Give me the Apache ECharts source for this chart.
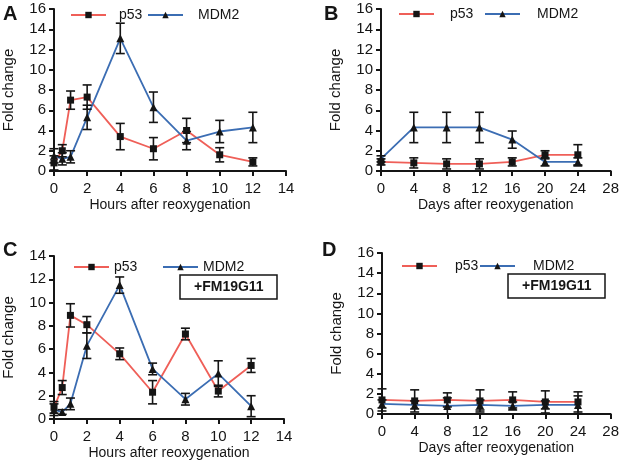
<!DOCTYPE html>
<html>
<head>
<meta charset="utf-8">
<title>p53 / MDM2 fold change</title>
<script src="https://cdn.jsdelivr.net/npm/echarts@6/dist/echarts.min.js"></script>
<style>
  html, body { margin: 0; padding: 0; background: #fff; }
  #chart { width: 622px; height: 462px; }
</style>
</head>
<body>
<div id="chart"></div>
<script>
// time points
const hours = [0, 0.5, 1, 2, 4, 6, 8, 10, 12]
const days = [0, 4, 8, 12, 16, 20, 24]

// A: hours, no inhibitor
const p53A = [0.8, 2.0, 7.0, 7.3, 3.4, 2.2, 4.0, 1.6, 0.9]
const p53AErr = [0.7, 0.6, 0.9, 1.2, 1.3, 1.1, 1.2, 0.7, 0.4]
const mdm2A = [1.5, 1.2, 1.4, 5.3, 13.1, 6.3, 3.0, 3.9, 4.3]
const mdm2AErr = [0.7, 0.6, 0.6, 1.2, 1.5, 1.5, 0.9, 1.1, 1.5]

// B: days, no inhibitor
const p53B = [0.9, 0.8, 0.7, 0.7, 0.9, 1.6, 1.6]
const p53BErr = [0.3, 0.5, 0.5, 0.5, 0.4, 0.4, 1.0]
const mdm2B = [1.2, 4.3, 4.3, 4.3, 3.1, 0.9, 0.9]
const mdm2BErr = [0.3, 1.5, 1.5, 1.5, 0.85, 0.4, 0.4]

// C: hours, +FM19G11
const p53C = [1.0, 2.7, 8.9, 8.1, 5.6, 2.3, 7.3, 2.4, 4.6]
const p53CErr = [0.5, 0.6, 1.0, 0.7, 0.5, 1.0, 0.5, 0.5, 0.6]
const mdm2C = [0.8, 0.6, 1.3, 6.3, 11.5, 4.3, 1.7, 3.9, 1.1]
const mdm2CErr = [0.5, 0.2, 0.5, 1.1, 0.7, 0.5, 0.5, 1.1, 0.9]

// D: days, +FM19G11
const p53D = [1.4, 1.3, 1.4, 1.3, 1.4, 1.2, 1.2]
const p53DErr = [1.1, 1.1, 0.7, 1.1, 0.8, 1.1, 1.0]
const mdm2D = [1.0, 0.9, 0.8, 0.9, 0.8, 0.9, 0.9]
const mdm2DErr = [0.4, 0.4, 0.8, 0.5, 0.4, 0.4, 0.9]

const RED = '#ef5f58'
const BLUE = '#3b6db3'
const INK = '#151515'
const FONT = 'Liberation Sans, Arial, sans-serif'

const panels = [
  { grid: { left: 54, top: 9, width: 232, height: 162 }, xs: hours, xMax: 14, xStep: 2, yMax: 16,
    xName: 'Hours after reoxygenation', p53: p53A, p53Err: p53AErr, mdm2: mdm2A, mdm2Err: mdm2AErr },
  { grid: { left: 381, top: 9, width: 234, height: 162 }, xs: days, xMax: 28, xStep: 4, yMax: 16,
    xName: 'Days after reoxygenation', p53: p53B, p53Err: p53BErr, mdm2: mdm2B, mdm2Err: mdm2BErr },
  { grid: { left: 53, top: 256, width: 231, height: 163 }, xs: hours, xMax: 14, xStep: 2, yMax: 14,
    xName: 'Hours after reoxygenation', p53: p53C, p53Err: p53CErr, mdm2: mdm2C, mdm2Err: mdm2CErr },
  { grid: { left: 382, top: 253, width: 233, height: 161 }, xs: days, xMax: 28, xStep: 4, yMax: 16,
    xName: 'Days after reoxygenation', p53: p53D, p53Err: p53DErr, mdm2: mdm2D, mdm2Err: mdm2DErr }
]

// error bar with caps
function renderErr(params, api) {
  const x = api.value(0)
  const lo = api.coord([x, api.value(1)])
  const hi = api.coord([x, api.value(2)])
  const w = 4.5
  const style = { stroke: INK, lineWidth: 1.6 }
  return {
    type: 'group',
    children: [
      { type: 'line', shape: { x1: lo[0], y1: lo[1], x2: hi[0], y2: hi[1] }, style },
      { type: 'line', shape: { x1: lo[0] - w, y1: lo[1], x2: lo[0] + w, y2: lo[1] }, style },
      { type: 'line', shape: { x1: hi[0] - w, y1: hi[1], x2: hi[0] + w, y2: hi[1] }, style }
    ]
  }
}

const axisLine = { lineStyle: { color: INK, width: 2 } }
const axisTick = { length: 5, lineStyle: { color: INK, width: 2 } }

const grids = []
const xAxes = []
const yAxes = []
const series = []

panels.forEach((p, i) => {
  grids.push(p.grid)
  xAxes.push({
    type: 'value', gridIndex: i, min: 0, max: p.xMax, interval: p.xStep,
    name: p.xName, nameLocation: 'middle', nameGap: 27,
    nameTextStyle: { fontSize: 14, color: INK, fontFamily: FONT },
    axisLine, axisTick, splitLine: { show: false },
    axisLabel: { fontSize: 15, color: INK, margin: 10, fontFamily: FONT }
  })
  yAxes.push({
    type: 'value', gridIndex: i, min: 0, max: p.yMax, interval: 2,
    name: 'Fold change', nameLocation: 'middle', nameGap: 38,
    nameTextStyle: { fontSize: 15, color: INK, fontFamily: FONT },
    axisLine: { show: true, lineStyle: axisLine.lineStyle }, axisTick: { show: true, ...axisTick },
    splitLine: { show: false },
    axisLabel: { fontSize: 15, color: INK, margin: 8, fontFamily: FONT }
  })
  const lines = [
    { name: 'p53', ys: p.p53, err: p.p53Err, color: RED, symbol: 'rect', size: 7 },
    { name: 'MDM2', ys: p.mdm2, err: p.mdm2Err, color: BLUE, symbol: 'triangle', size: 8 }
  ]
  lines.forEach(l => {
    series.push({
      type: 'line', name: l.name, xAxisIndex: i, yAxisIndex: i,
      data: p.xs.map((x, k) => [x, l.ys[k]]),
      symbol: l.symbol, symbolSize: l.size, showAllSymbol: true,
      lineStyle: { color: l.color, width: 1.8 },
      itemStyle: { color: INK },
      z: 2
    })
    series.push({
      type: 'custom', name: l.name + ' err', xAxisIndex: i, yAxisIndex: i,
      renderItem: renderErr,
      encode: { x: 0, y: [1, 2] },
      data: p.xs.map((x, k) => [x, l.ys[k] - l.err[k], l.ys[k] + l.err[k]]),
      z: 3
    })
  })
})

function legendItem(name, left, top, pad) {
  return {
    data: [name], left, top, itemWidth: 35, itemHeight: 8, selectedMode: false,
    textStyle: { fontSize: 14, color: INK, fontFamily: FONT, padding: [0, 0, 0, pad] }
  }
}

const legends = [
  legendItem('p53', 65, 3, 8), legendItem('MDM2', 142, 3, 10),
  legendItem('p53', 393, 2, 11), legendItem('MDM2', 479, 2, 12),
  legendItem('p53', 68, 255, 0), legendItem('MDM2', 157, 255, 0),
  legendItem('p53', 396, 254, 13), legendItem('MDM2', 474, 254, 13)
]

function letter(t, left, top) {
  return { text: t, left, top, padding: 0, textStyle: { fontSize: 20, fontWeight: 'bold', color: INK, fontFamily: FONT } }
}
function tag(left, top) {
  return {
    text: '+FM19G11', left, top, padding: [5, 14], borderWidth: 1.5, borderColor: INK,
    textStyle: { fontSize: 14, fontWeight: 'bold', color: INK, fontFamily: FONT }
  }
}

const chart = echarts.init(document.getElementById('chart'))
chart.setOption({
  animation: false,
  backgroundColor: '#fff',
  textStyle: { fontFamily: FONT },
  title: [letter('A', 3, 4), letter('B', 324, 4), letter('C', 3, 240), letter('D', 322, 240), tag(180, 275), tag(508, 274)],
  legend: legends,
  grid: grids,
  xAxis: xAxes,
  yAxis: yAxes,
  series
})
</script>
</body>
</html>
